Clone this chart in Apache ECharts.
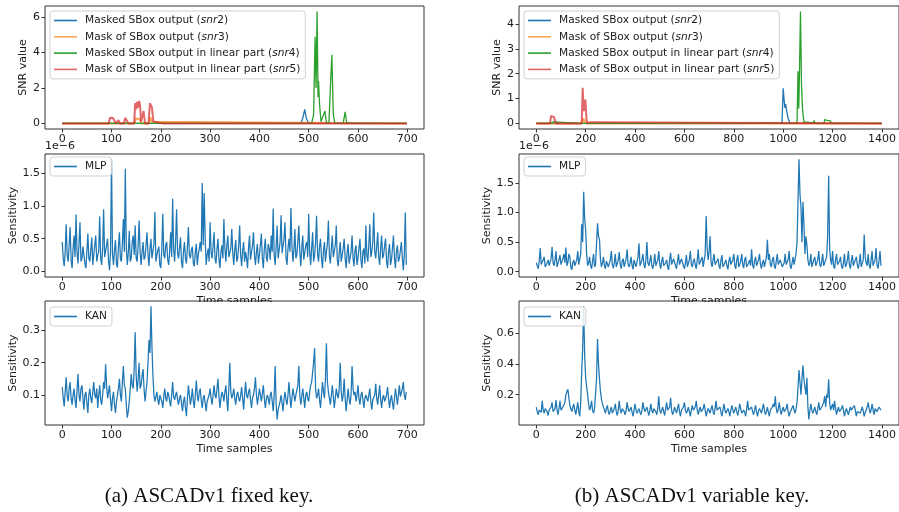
<!DOCTYPE html>
<html>
<head>
<meta charset="utf-8">
<script src="https://cdn.jsdelivr.net/npm/echarts@6/dist/echarts.min.js"></script>
<style>
  html, body { margin: 0; padding: 0; background: #fff; }
  #chart { width: 899px; height: 512px; }
</style>
</head>
<body>
<div id="chart"></div>
<script>
// ---- SNR traces, [sample, value]; each trace rests on zero between listed points ----
const snr2Fixed = [[0,0],[484,0],[488,0.3],[492,0.79],[495,0.3],[499,0.05],[504,0],[518,0],[521,0.1],[524,0],[699,0]];
const snr3Fixed = [[0,0],[96,0],[100,0.05],[104,0],[146,0],[150,0.28],[154,0.3],[157,0.25],[160,0],[176,0],[179,0.35],[182,0.1],[186,0],[699,0]];
const snr4Fixed = [[0,0],[98,0],[101,0.06],[104,0],[150,0],[153,0.08],[156,0],[178,0],[181,0.08],[184,0],[506,0],[510,0.5],[513,4.9],[515,2.0],[517,6.32],[519,1.5],[520,2.4],[522,1.1],[525,0.1],[529,0],[533,0.7],[536,0.05],[541,0],[544,2.0],[547,3.88],[550,0.5],[553,0],[570,0],[574,0.65],[577,0.05],[580,0],[598,0],[601,0.1],[604,0],[634,0],[637,0.1],[640,0],[699,0]];
const snr5Fixed = [[0,0],[94,0],[97,0.32],[100,0.25],[103,0.3],[106,0.2],[109,0],[111,0],[114,0.18],[117,0],[125,0],[128,0.32],[131,0.28],[134,0],[146,0],[148,1.15],[150,0.8],[152,1.22],[154,0.9],[156,1.27],[158,1.0],[160,0.1],[163,0],[165,0.7],[168,0],[175,0],[178,1.15],[180,1.2],[182,0.9],[185,0.1],[188,0],[205,0],[208,0.05],[211,0],[699,0]];

const snr2Variable = [[0,0],[995,0],[1000,1.41],[1004,0.9],[1007,0.62],[1010,0.78],[1014,0.5],[1020,0.2],[1028,0],[1399,0]];
const snr3Variable = [[0,0],[122,0],[125,0.06],[128,0],[185,0],[190,0.2],[194,0.25],[198,0.15],[202,0],[1399,0]];
const snr4Variable = [[0,0],[58,0],[62,0.08],[70,0.06],[74,0],[186,0],[190,0.08],[194,0],[246,0],[250,0.08],[254,0],[1056,0],[1060,2.1],[1063,0.6],[1066,2.1],[1070,4.5],[1074,1.6],[1078,0.6],[1084,0.05],[1090,0],[1100,0.05],[1104,0],[1122,0],[1125,0.12],[1128,0],[1165,0],[1168,0.15],[1172,0.08],[1178,0.12],[1184,0.05],[1190,0.1],[1196,0],[1399,0]];
const snr5Variable = [[0,0],[1,0.08],[4,0],[56,0],[60,0.3],[64,0.22],[68,0.28],[72,0.25],[76,0.1],[80,0],[184,0],[188,1.43],[192,0.5],[196,0.7],[199,0.96],[203,0.2],[207,0],[215,0],[218,0.05],[221,0],[1399,0]];

// ---- Sensitivity traces, one value every STEP samples (MLP values in units of 1e-6) ----
const STEP_FIXED = 2;
const STEP_VARIABLE = 4;

const mlpFixed = [
 0.45,0.2,0.08,0.3,0.72,0.25,0.15,0.4,0.68,0.18,0.05,0.35,0.55,0.22,0.87,0.3,0.12,0.42,0.75,0.15,
 0.2,0.38,0.35,0.12,0.05,0.3,0.58,0.2,0.15,0.33,0.52,0.1,0.08,0.4,0.55,0.15,0.25,0.3,0.84,0.2,
 0.1,0.35,0.95,0.22,0.2,0.4,0.5,0.15,0.02,0.3,1.71,0.25,0.1,0.32,0.48,0.12,0.06,0.38,0.6,0.2,
 0.15,0.42,0.8,0.3,1.57,0.35,0.1,0.28,0.62,0.15,0.2,0.45,0.55,0.25,0.7,0.2,0.15,0.4,0.78,0.3,
 0.1,0.3,0.45,0.18,0.22,0.4,0.6,0.25,0.08,0.35,0.5,0.2,0.18,0.42,0.91,0.15,0.25,0.32,0.38,0.1,
 0.05,0.35,0.88,0.25,0.2,0.4,0.45,0.18,0.1,0.3,0.6,0.22,1.11,0.35,0.15,0.45,0.95,0.28,0.2,0.36,
 0.52,0.15,0.05,0.3,0.45,0.2,0.12,0.38,0.68,0.25,0.2,0.33,0.38,0.12,0.08,0.3,0.42,0.1,0.25,0.22,
 0.45,0.3,1.35,0.4,1.2,0.5,0.1,0.25,0.35,0.15,0.75,0.3,0.2,0.38,0.6,0.2,0.12,0.35,0.5,0.18,
 0.05,0.3,0.4,0.2,0.8,0.35,0.15,0.4,0.55,0.22,0.25,0.35,0.65,0.28,0.1,0.33,0.48,0.15,0.2,0.4,
 0.7,0.25,0.08,0.32,0.45,0.15,0.3,0.2,0.05,0.36,0.55,0.18,0.2,0.4,0.6,0.25,0.1,0.3,0.42,0.12,
 0.25,0.4,0.58,0.2,0.05,0.35,0.5,0.22,0.15,0.42,0.35,0.18,0.55,0.3,0.96,0.25,0.1,0.38,0.7,0.2,
 0.2,0.45,0.86,0.28,0.3,0.5,0.75,0.2,0.1,0.35,0.5,0.3,0.97,0.4,0.15,0.33,0.65,0.2,0.25,0.45,
 0.7,0.3,0.08,0.36,0.55,0.18,0.2,0.4,0.45,0.22,0.88,0.3,0.1,0.35,0.6,0.15,0.25,0.45,0.85,0.28,
 0.15,0.38,0.5,0.2,0.05,0.32,0.45,0.15,0.3,0.42,0.78,0.25,0.12,0.35,0.55,0.22,0.2,0.4,0.7,0.18,
 0.08,0.3,0.45,0.15,0.25,0.35,0.5,0.2,0.05,0.28,0.42,0.12,0.15,0.3,0.55,0.2,0.08,0.32,0.4,0.1,
 0.2,0.35,0.5,0.18,0.05,0.3,0.35,0.12,0.7,0.25,0.15,0.4,0.72,0.22,0.3,0.45,0.9,0.3,0.2,0.38,
 0.6,0.22,0.1,0.35,0.55,0.2,0.25,0.4,0.5,0.15,0.05,0.3,0.42,0.1,0.18,0.36,0.55,0.2,0.05,0.3,
 0.4,0.15,0.2,0.32,0.45,0.2,0.02,0.25,0.9,0.1];

const mlpVariable = [
 0.15,0.1,0.05,0.18,0.4,0.12,0.1,0.2,0.25,0.08,0.05,0.15,0.2,0.1,0.08,0.22,0.42,0.15,0.1,0.2,
 0.35,0.08,0.05,0.2,0.28,0.12,0.1,0.22,0.3,0.15,0.41,0.1,0.15,0.3,0.25,0.08,0.03,0.15,0.2,0.1,
 0.08,0.2,0.35,0.12,0.1,0.3,0.8,0.5,1.35,0.9,0.7,0.3,0.1,0.15,0.25,0.1,0.05,0.18,0.3,0.08,
 0.12,0.45,0.82,0.6,0.55,0.2,0.08,0.15,0.25,0.1,0.05,0.18,0.2,0.08,0.1,0.2,0.35,0.12,0.06,0.15,
 0.3,0.08,0.1,0.2,0.33,0.12,0.05,0.18,0.22,0.08,0.1,0.22,0.38,0.12,0.08,0.15,0.25,0.1,0.04,0.2,
 0.2,0.08,0.1,0.25,0.48,0.1,0.15,0.2,0.3,0.12,0.06,0.2,0.5,0.15,0.1,0.18,0.28,0.1,0.05,0.15,
 0.3,0.1,0.12,0.2,0.35,0.12,0.05,0.18,0.25,0.1,0.08,0.15,0.2,0.08,0.03,0.2,0.32,0.12,0.1,0.22,
 0.25,0.1,0.05,0.18,0.3,0.12,0.1,0.22,0.2,0.1,0.05,0.15,0.28,0.08,0.1,0.2,0.35,0.12,0.08,0.18,
 0.22,0.1,0.05,0.2,0.38,0.12,0.1,0.15,0.25,0.08,0.05,0.3,0.94,0.4,0.2,0.35,0.6,0.15,0.08,0.2,
 0.3,0.12,0.1,0.18,0.22,0.1,0.05,0.2,0.28,0.08,0.1,0.15,0.2,0.1,0.04,0.18,0.25,0.12,0.1,0.2,
 0.3,0.1,0.05,0.2,0.28,0.08,0.12,0.18,0.3,0.12,0.06,0.2,0.25,0.08,0.1,0.15,0.2,0.1,0.38,0.12,
 0.05,0.18,0.25,0.1,0.1,0.2,0.3,0.12,0.05,0.15,0.2,0.08,0.1,0.25,0.54,0.2,0.3,0.12,0.08,0.2,
 0.25,0.1,0.05,0.18,0.3,0.12,0.1,0.2,0.22,0.08,0.05,0.15,0.3,0.12,0.1,0.2,0.35,0.1,0.05,0.15,
 0.25,0.12,0.1,0.3,0.5,1.2,1.9,1.3,1.1,0.5,1.18,0.8,0.3,0.6,0.45,0.2,0.1,0.15,0.3,0.08,
 0.05,0.2,0.25,0.1,0.1,0.2,0.35,0.12,0.08,0.18,0.3,0.1,0.1,0.2,0.25,0.6,1.62,0.4,0.2,0.12,
 0.35,0.1,0.05,0.2,0.3,0.12,0.1,0.18,0.25,0.1,0.05,0.15,0.3,0.08,0.12,0.2,0.35,0.12,0.05,0.18,
 0.28,0.1,0.1,0.2,0.25,0.12,0.05,0.15,0.3,0.08,0.1,0.2,0.63,0.25,0.15,0.1,0.3,0.12,0.05,0.2,
 0.35,0.1,0.1,0.2,0.4,0.12,0.05,0.18,0.35,0.1];

const kanFixed = [
 0.125,0.09,0.065,0.11,0.155,0.1,0.08,0.12,0.14,0.09,0.07,0.1,0.12,0.085,0.06,0.115,0.165,0.1,0.08,0.12,
 0.13,0.09,0.055,0.1,0.11,0.075,0.045,0.1,0.12,0.09,0.075,0.11,0.14,0.1,0.09,0.12,0.06,0.1,0.13,0.085,
 0.07,0.1,0.14,0.12,0.195,0.13,0.09,0.11,0.13,0.085,0.05,0.09,0.11,0.07,0.045,0.08,0.1,0.12,0.15,0.1,
 0.08,0.14,0.19,0.13,0.12,0.07,0.03,0.05,0.08,0.12,0.165,0.13,0.12,0.18,0.294,0.16,0.11,0.15,0.2,0.12,
 0.13,0.16,0.18,0.12,0.08,0.11,0.14,0.2,0.27,0.23,0.374,0.25,0.16,0.1,0.08,0.095,0.11,0.085,0.07,0.1,
 0.1,0.08,0.06,0.095,0.12,0.09,0.08,0.11,0.1,0.08,0.065,0.1,0.14,0.095,0.085,0.1,0.11,0.085,0.07,0.09,
 0.1,0.075,0.05,0.08,0.095,0.06,0.035,0.09,0.13,0.1,0.07,0.09,0.12,0.08,0.06,0.1,0.145,0.1,0.08,0.11,
 0.12,0.085,0.06,0.09,0.1,0.075,0.05,0.08,0.085,0.1,0.12,0.09,0.07,0.1,0.13,0.1,0.09,0.12,0.15,0.095,
 0.06,0.09,0.11,0.1,0.08,0.11,0.13,0.085,0.05,0.12,0.2,0.11,0.09,0.1,0.12,0.09,0.07,0.1,0.11,0.09,
 0.08,0.1,0.125,0.09,0.055,0.1,0.14,0.1,0.09,0.11,0.12,0.085,0.06,0.09,0.1,0.12,0.155,0.1,0.07,0.095,
 0.12,0.1,0.08,0.105,0.13,0.09,0.06,0.085,0.1,0.09,0.07,0.1,0.11,0.08,0.05,0.1,0.19,0.07,0.025,0.055,
 0.06,0.08,0.1,0.075,0.05,0.09,0.11,0.085,0.07,0.1,0.14,0.095,0.06,0.09,0.12,0.1,0.08,0.1,0.105,0.13,
 0.19,0.1,0.07,0.095,0.12,0.09,0.06,0.1,0.11,0.09,0.08,0.11,0.13,0.14,0.17,0.2,0.245,0.12,0.09,0.1,
 0.12,0.085,0.06,0.1,0.14,0.11,0.09,0.15,0.26,0.14,0.11,0.09,0.07,0.1,0.13,0.095,0.06,0.09,0.12,0.1,
 0.09,0.12,0.2,0.11,0.08,0.1,0.15,0.09,0.05,0.085,0.12,0.09,0.07,0.1,0.19,0.12,0.1,0.11,0.08,0.1,
 0.13,0.09,0.07,0.1,0.11,0.085,0.06,0.09,0.1,0.095,0.08,0.1,0.12,0.08,0.055,0.085,0.09,0.1,0.135,0.09,
 0.07,0.1,0.13,0.085,0.06,0.09,0.1,0.08,0.08,0.1,0.125,0.09,0.06,0.085,0.1,0.075,0.055,0.09,0.12,0.095,
 0.07,0.1,0.13,0.095,0.09,0.12,0.14,0.1,0.085,0.11];

const kanVariable = [
 0.12,0.09,0.07,0.1,0.11,0.085,0.16,0.1,0.08,0.11,0.12,0.09,0.065,0.1,0.1,0.12,0.15,0.09,0.08,0.11,
 0.165,0.1,0.07,0.11,0.16,0.1,0.09,0.12,0.12,0.15,0.2,0.22,0.235,0.18,0.13,0.11,0.09,0.12,0.14,0.1,
 0.07,0.11,0.15,0.09,0.06,0.15,0.35,0.5,0.77,0.45,0.31,0.25,0.2,0.14,0.1,0.12,0.16,0.1,0.08,0.11,
 0.12,0.3,0.56,0.4,0.3,0.22,0.17,0.14,0.12,0.1,0.08,0.11,0.13,0.09,0.07,0.1,0.12,0.08,0.09,0.11,
 0.14,0.09,0.065,0.1,0.16,0.1,0.08,0.11,0.12,0.09,0.07,0.1,0.15,0.11,0.09,0.1,0.12,0.085,0.06,0.1,
 0.14,0.1,0.08,0.095,0.11,0.085,0.07,0.1,0.15,0.11,0.09,0.1,0.12,0.09,0.065,0.1,0.14,0.095,0.08,0.11,
 0.12,0.09,0.07,0.11,0.19,0.1,0.08,0.1,0.12,0.09,0.065,0.11,0.15,0.1,0.09,0.12,0.18,0.1,0.07,0.09,
 0.12,0.1,0.08,0.11,0.14,0.09,0.06,0.1,0.11,0.12,0.15,0.1,0.08,0.095,0.12,0.09,0.06,0.1,0.13,0.1,
 0.09,0.12,0.16,0.1,0.07,0.1,0.12,0.09,0.08,0.11,0.14,0.1,0.06,0.09,0.11,0.1,0.08,0.11,0.13,0.09,
 0.07,0.11,0.16,0.1,0.09,0.11,0.12,0.085,0.06,0.1,0.14,0.1,0.08,0.095,0.11,0.09,0.06,0.1,0.13,0.1,
 0.08,0.1,0.12,0.09,0.065,0.1,0.14,0.11,0.08,0.09,0.1,0.085,0.06,0.11,0.16,0.1,0.09,0.105,0.12,0.09,
 0.07,0.1,0.13,0.09,0.06,0.095,0.11,0.1,0.08,0.11,0.14,0.1,0.07,0.09,0.12,0.085,0.06,0.1,0.1,0.12,
 0.14,0.12,0.19,0.11,0.08,0.11,0.15,0.1,0.07,0.1,0.12,0.09,0.08,0.11,0.14,0.09,0.06,0.085,0.1,0.11,
 0.13,0.1,0.08,0.11,0.15,0.25,0.36,0.28,0.2,0.3,0.39,0.3,0.25,0.2,0.31,0.12,0.04,0.1,0.14,0.1,
 0.08,0.1,0.12,0.09,0.07,0.11,0.15,0.1,0.09,0.12,0.12,0.15,0.19,0.12,0.2,0.18,0.3,0.15,0.1,0.12,
 0.14,0.1,0.16,0.11,0.07,0.1,0.12,0.09,0.08,0.11,0.13,0.1,0.06,0.09,0.11,0.1,0.07,0.095,0.12,0.1,
 0.09,0.11,0.13,0.1,0.06,0.09,0.1,0.1,0.08,0.1,0.12,0.095,0.06,0.085,0.1,0.12,0.15,0.11,0.08,0.1,
 0.14,0.1,0.07,0.11,0.12,0.09,0.08,0.12,0.13,0.1];

// ---- tick labels ----
const xTicksFixed = [0,100,200,300,400,500,600,700];
const xTicksVariable = [0,200,400,600,800,1000,1200,1400];
const yTicksSnrFixed = [0,2,4,6];
const yTicksSnrVariable = [0,1,2,3,4];
const yTicksMlp = [0,0.5,1.0,1.5];
const yTicksKanFixed = [0.1,0.2,0.3];
const yTicksKanVariable = [0.2,0.4,0.6];

const snrNames = [
  'Masked SBox output (snr2)',
  'Mask of SBox output (snr3)',
  'Masked SBox output in linear part (snr4)',
  'Mask of SBox output in linear part (snr5)'
];
const C = ['#1f77b4', '#ff7f0e', '#2ca02c', '#d62728'];
const FONT = 'DejaVu Sans';
const INK = '#1a1a1a';

const withStep = (vals, step) => vals.map((v, i) => [i * step, v]);

const grids = [
  { left: 45,  top: 6,   width: 379, height: 123 },
  { left: 519, top: 6,   width: 382, height: 123 },
  { left: 45,  top: 154, width: 379, height: 123 },
  { left: 519, top: 154, width: 382, height: 123 },
  { left: 45,  top: 301, width: 379, height: 124 },
  { left: 519, top: 301, width: 382, height: 124 }
].map(g => Object.assign(g, { show: true, borderColor: '#333', borderWidth: 1, backgroundColor: 'transparent' }));

function xAxis(gi, fixed, name) {
  const ticks = fixed ? xTicksFixed : xTicksVariable;
  return {
    type: 'value', gridIndex: gi,
    min: fixed ? -34.95 : -69.95, max: fixed ? 733.95 : 1468.95,
    axisLine: { show: false, onZero: false },
    splitLine: { show: false },
    axisTick: { show: true, length: 3.5, customValues: ticks, lineStyle: { color: '#333', width: 1 } },
    axisLabel: { show: true, customValues: ticks, margin: 4.5, fontSize: 11, fontFamily: FONT, color: INK,
                 formatter: v => String(v) },
    name: name || '', nameLocation: 'middle', nameGap: 19,
    nameTextStyle: { fontSize: 11, fontFamily: FONT, color: INK }
  };
}

function yAxis(gi, min, max, ticks, digits, name, gap) {
  return {
    type: 'value', gridIndex: gi, min: min, max: max,
    axisLine: { show: false, onZero: false },
    splitLine: { show: false },
    axisTick: { show: true, length: 3.5, customValues: ticks, lineStyle: { color: '#333', width: 1 } },
    axisLabel: { show: true, customValues: ticks, margin: 5, fontSize: 11, fontFamily: FONT, color: INK,
                 formatter: v => v.toFixed(digits) },
    name: name, nameLocation: 'middle', nameRotate: 90, nameGap: gap,
    nameTextStyle: { fontSize: 11, fontFamily: FONT, color: INK }
  };
}

function snrSeries(gi, data, k) {
  const faded = (k === 1 || k === 3);
  return {
    type: 'line', name: snrNames[k], xAxisIndex: gi, yAxisIndex: gi,
    data: data, showSymbol: false, symbol: 'none', animation: false, z: 2 + k,
    itemStyle: { color: C[k], opacity: faded ? 0.7 : 1 },
    lineStyle: { color: C[k], width: faded ? 2 : 1.3, opacity: faded ? 0.7 : 1 }
  };
}

function sensSeries(gi, name, vals, step) {
  return {
    type: 'line', name: name, xAxisIndex: gi, yAxisIndex: gi,
    data: withStep(vals, step), showSymbol: false, symbol: 'none', animation: false,
    itemStyle: { color: C[0] },
    lineStyle: { color: C[0], width: 1.25 }
  };
}

function snrLabel(name) {
  const m = name.match(/^(.*)\(snr(\d)\)$/);
  if (!m) return '{n|' + name + '}';
  return '{n|' + m[1] + '(}{i|snr}{n|' + m[2] + ')}';
}

const LEG_FONT = 10.6;
function legend(left, top, names) {
  return {
    orient: 'vertical', left: left, top: top, data: names,
    icon: 'rect', itemWidth: 23, itemHeight: 1.6, itemGap: 5.3,
    padding: [4, 5, 4, 4],
    backgroundColor: 'rgba(255,255,255,0.85)', borderColor: '#d0d0d0', borderWidth: 1, borderRadius: 3,
    selectedMode: false,
    formatter: snrLabel,
    textStyle: {
      fontSize: LEG_FONT, fontFamily: FONT, color: INK, padding: [0, 0, 0, 3],
      rich: {
        n: { fontSize: LEG_FONT, fontFamily: FONT, color: INK },
        i: { fontSize: LEG_FONT, fontFamily: FONT, color: INK, fontStyle: 'italic' }
      }
    }
  };
}

const option = {
  animation: false,
  backgroundColor: '#fff',
  grid: grids,
  xAxis: [
    xAxis(0, true), xAxis(1, false),
    xAxis(2, true, 'Time samples'), xAxis(3, false, 'Time samples'),
    xAxis(4, true, 'Time samples'), xAxis(5, false, 'Time samples')
  ],
  yAxis: [
    yAxis(0, -0.316, 6.636, yTicksSnrFixed, 0, 'SNR value', 10.5),
    yAxis(1, -0.225, 4.725, yTicksSnrVariable, 0, 'SNR value', 12.5),
    yAxis(2, -0.0855, 1.7955, yTicksMlp, 1, 'Sensitivity', 22.5),
    yAxis(3, -0.09, 1.99, yTicksMlp, 1, 'Sensitivity', 21),
    yAxis(4, 0.0075, 0.3905, yTicksKanFixed, 1, 'Sensitivity', 22.5),
    yAxis(5, 0.0035, 0.8065, yTicksKanVariable, 1, 'Sensitivity', 21)
  ],
  legend: [
    legend(50, 11, snrNames),
    legend(524, 11, snrNames),
    legend(50, 157, ['MLP']),
    legend(524, 157, ['MLP']),
    legend(50, 307, ['KAN']),
    legend(524, 307, ['KAN'])
  ],
  series: [
    snrSeries(0, snr2Fixed, 0), snrSeries(0, snr3Fixed, 1), snrSeries(0, snr4Fixed, 2), snrSeries(0, snr5Fixed, 3),
    snrSeries(1, snr2Variable, 0), snrSeries(1, snr3Variable, 1), snrSeries(1, snr4Variable, 2), snrSeries(1, snr5Variable, 3),
    sensSeries(2, 'MLP', mlpFixed, STEP_FIXED),
    sensSeries(3, 'MLP', mlpVariable, STEP_VARIABLE),
    sensSeries(4, 'KAN', kanFixed, STEP_FIXED),
    sensSeries(5, 'KAN', kanVariable, STEP_VARIABLE)
  ],
  graphic: [
    // lower plots sit over the lower half of the middle axis titles
    { type: 'rect', left: 190, top: 302, shape: { width: 90, height: 6 }, style: { fill: '#fff' }, z: 50 },
    { type: 'rect', left: 665, top: 302, shape: { width: 90, height: 6 }, style: { fill: '#fff' }, z: 50 },
    // scale factor of the MLP sensitivity axes
    { type: 'text', left: 45, top: 141, z: 40, style: { text: '1e\u22126', fontSize: 11, fontFamily: FONT, fill: INK } },
    { type: 'text', left: 519, top: 141, z: 40, style: { text: '1e\u22126', fontSize: 11, fontFamily: FONT, fill: INK } },
    // sub-figure captions
    { type: 'text', x: 209, y: 496, z: 40, style: { text: '(a) ASCADv1 fixed key.', fontSize: 21, fontFamily: 'Liberation Serif', fill: '#111', textAlign: 'center', textVerticalAlign: 'middle' } },
    { type: 'text', x: 692, y: 496, z: 40, style: { text: '(b) ASCADv1 variable key.', fontSize: 21, fontFamily: 'Liberation Serif', fill: '#111', textAlign: 'center', textVerticalAlign: 'middle' } }
  ]
};

const chart = echarts.init(document.getElementById('chart'), null, { renderer: 'canvas' });
chart.setOption(option);
</script>
</body>
</html>
